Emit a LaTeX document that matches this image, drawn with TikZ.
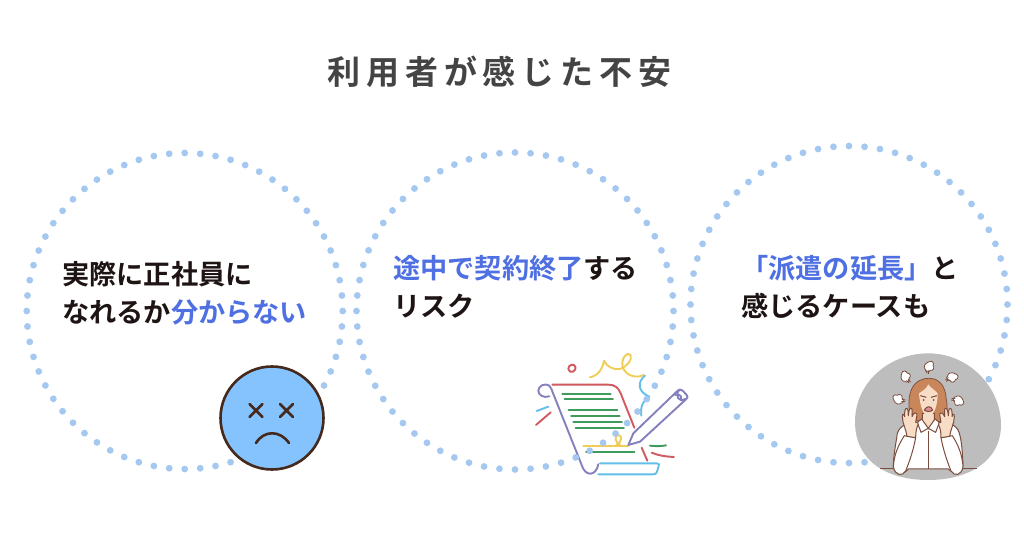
\documentclass[tikz,border=0pt]{standalone}
\usepackage{fontspec}
\setmainfont{Noto Sans CJK JP}[BoldFont={Noto Sans CJK JP Bold}]
\usetikzlibrary{calc}
\definecolor{dotblue}{HTML}{A5C8F0}
\definecolor{hl}{HTML}{4F70E2}
\definecolor{titlec}{HTML}{444444}
\definecolor{inkc}{HTML}{1E1414}
\definecolor{faceb}{HTML}{85C3FF}
\definecolor{facel}{HTML}{44291C}
\definecolor{sred}{HTML}{D2595F}
\definecolor{spur}{HTML}{8480BE}
\definecolor{sgrn}{HTML}{3E9B5B}
\definecolor{syel}{HTML}{F0CE55}
\definecolor{sblu}{HTML}{62C0E8}
\definecolor{blobc}{HTML}{BDBDBD}
\definecolor{hair}{HTML}{C8865A}
\definecolor{skin}{HTML}{F7DCC6}
\definecolor{wline}{HTML}{7B4D3E}
\tikzset{
  px/.style={x=1pt,y=-1pt},
  bodytext/.style={anchor=west,inner sep=0pt,font=\fontsize{27.2}{32}\selectfont\bfseries,text=inkc},
  titletext/.style={inner sep=0pt,font=\fontsize{33}{39}\selectfont\bfseries\addfontfeature{LetterSpace=18},text=titlec},
  sl/.style={line width=1.9pt,line cap=round,line join=round},
  wl/.style={line width=1pt,draw=wline,line join=round},
}
\newcommand{\hlt}[1]{\textcolor{hl}{#1}}
\newcommand{\dotring}[3]{%
  \foreach \a in {0,...,63}{\fill[dotblue] ($(#1,#2)+({5.625*\a}:#3)$) circle[radius=3.4];}}
\newcommand{\puff}[3]{%
  \begin{scope}[shift={(#1,#2)},rotate=#3,scale=1.55]
    \draw[wl,fill=white,line width=0.8pt] (-9,0) .. controls (-14,-8) and (-6,-12) .. (-2,-9) .. controls (2,-13) and (9,-9) .. (7,-4) .. controls (12,-1) and (10,7) .. (5,6) .. controls (2,10) and (-6,8) .. (-9,0) -- cycle;
    \draw[wl,line width=0.8pt] (7,-1) -- (14,0) (6,3) -- (13,3);
  \end{scope}}
\begin{document}
\begin{tikzpicture}[px]
\useasboundingbox (0,0) rectangle (1024,538);
\fill[white] (0,0) rectangle (1024,538);
\node[titletext] (title) at (499.5,72) {利用者が感じた不安};

% ring 1 & face
\dotring{184.7}{311}{158}
\node[circle,draw=facel,fill=faceb,line width=2.6pt,minimum size=103pt,inner sep=0pt] (face) at (272,418) {};
\begin{scope}[shift={(face.center)}]
  \draw[facel,line width=2.6pt,line cap=round] (-22.5,-14) -- (-9.5,-1) (-22.5,-1) -- (-9.5,-14);
  \draw[facel,line width=2.6pt,line cap=round] (8,-14) -- (21,-1) (8,-1) -- (21,-14);
  \draw[facel,line width=2.6pt,line cap=round] (-16,25) .. controls (-8,12) and (8,12) .. (17,25);
\end{scope}

% scroll picture, under ring 2
\begin{scope}[shift={(520,345)},x=0.3333pt,y=-0.3333pt,sl]
  \draw[sred] (97,119) -- (265,119) .. controls (285,119) and (295,128) .. (302,145) -- (343,248);
  \draw[spur] (88,154) .. controls (70,160) and (55,150) .. (55,137) .. controls (55,122) and (75,113) .. (88,122) .. controls (95,130) and (95,135) .. (100,147) -- (185,360) .. controls (195,395) and (228,395) .. (235,358);
  \draw[sblu] (240,355) -- (410,355) .. controls (418,355) and (418,358) .. (416,364) -- (411,380) .. controls (410,386) and (406,388) .. (398,388) -- (235,388);
  \foreach \xa/\xb/\yy in {127/272/146,134/279/161,146/292/195,153/299/212,160/306/230,167/312/248,198/343/320}
    \draw[sgrn] (\xa,\yy) -- (\xb,\yy);
  \draw[syel] (190,302) -- (325,302);
  \draw[syel] (302,302) .. controls (284,292) and (282,270) .. (295,270) .. controls (308,270) and (306,292) .. (288,302);
  \draw[spur] (325,300) -- (340,265) -- (470,140) .. controls (478,132) and (483,132) .. (488,137) -- (500,150) .. controls (505,155) and (503,158) .. (498,163) -- (360,290) -- cycle;
  \draw[spur] (478,135) .. controls (462,150) and (478,175) .. (495,162) (465,150) .. controls (470,145) and (485,150) .. (484,160);
  \draw[sred] (48,240) -- (92,202) (365,308) -- (382,347);
  \draw[sred] (395,323) .. controls (415,332) and (440,335) .. (462,336);
  \draw[sblu] (50,198) -- (85,185);
  \draw[sgrn] (390,302) .. controls (405,304) and (425,304) .. (438,301);
  \draw[sred] (150,80) .. controls (138,70) and (150,55) .. (162,60) .. controls (172,66) and (165,85) .. (150,80);
  \draw[syel] (210,97) .. controls (235,92) and (248,70) .. (252,47) .. controls (260,65) and (280,75) .. (300,72) .. controls (320,65) and (338,45) .. (332,30) .. controls (322,18) and (302,40) .. (308,65) .. controls (315,90) and (345,102) .. (372,90);
  \draw[sblu] (375,92) .. controls (352,110) and (352,140) .. (388,155) .. controls (370,165) and (360,185) .. (364,212);
\end{scope}
\dotring{515}{311}{158.5}

% ring 3 & woman
\dotring{849}{304.5}{158.5}
\begin{scope}[shift={(845,345)},x=0.3333pt,y=-0.3333pt]
  \fill[blobc] (250,25) .. controls (370,25) and (468,125) .. (468,240) .. controls (468,345) and (375,405) .. (250,405) .. controls (120,405) and (30,345) .. (30,230) .. controls (30,115) and (130,25) .. (250,25) -- cycle;
  \foreach \px/\py/\r in {160/165/0,180/97/-40,250/65/-90,320/95/-140,340/165/180}{\puff{\px}{\py}{\r}}
  % table
  \draw[wl] (105,372) -- (395,372);
  % torso
  \draw[wl,fill=white] (215,225) .. controls (190,235) and (165,240) .. (157,265) .. controls (152,300) and (145,335) .. (145,365) .. controls (150,390) and (170,395) .. (190,372) -- (310,372) .. controls (335,395) and (350,385) .. (354,360) .. controls (352,320) and (350,285) .. (342,262) .. controls (335,240) and (310,232) .. (285,225) -- cycle;
  \draw[wl] (250,258) -- (250,372);
  % sleeves (forearms)
  \draw[wl,fill=white] (145,365) .. controls (150,392) and (172,395) .. (182,378) .. controls (195,345) and (205,315) .. (212,278) -- (178,272) .. controls (160,300) and (147,330) .. (145,365) -- cycle;
  \draw[wl,fill=white] (354,365) .. controls (350,392) and (328,395) .. (318,378) .. controls (305,345) and (295,315) .. (288,278) -- (322,272) .. controls (340,300) and (352,330) .. (354,365) -- cycle;
  % hair
  \draw[wl,fill=hair,line width=0.7pt] (252,100) .. controls (205,100) and (190,140) .. (192,180) .. controls (190,205) and (205,232) .. (230,228) -- (285,230) .. controls (305,220) and (310,190) .. (304,165) .. controls (302,125) and (285,100) .. (252,100) -- cycle;
  % neck + collar
  \draw[wl,fill=skin] (232,205) -- (232,235) -- (250,252) -- (268,235) -- (268,205) -- cycle;
  \draw[wl,fill=white] (230,222) -- (217,232) -- (228,262) -- (250,250) -- (272,262) -- (283,232) -- (270,222) -- (250,250) -- cycle;
  % face
  \fill[skin] (222,145) .. controls (225,185) and (235,212) .. (250,214) .. controls (268,212) and (278,180) .. (278,145) .. controls (270,135) and (258,130) .. (250,118) .. controls (245,130) and (232,138) .. (222,145) -- cycle;
  \fill[wline] (236,165) circle[radius=3] (266,165) circle[radius=3];
  \draw[wl] (226,152) -- (244,157) (276,152) -- (258,157);
  \draw[wl,fill=sred!70!white] (238,195) .. controls (245,182) and (258,182) .. (263,195) .. controls (258,201) and (244,201) .. (238,195) -- cycle;
  % hands
  \draw[wl,fill=skin] (186,274) .. controls (184,255) and (172,235) .. (172,215) .. controls (172,205) and (177,205) .. (179,215) .. controls (178,200) and (180,190) .. (185,190) .. controls (190,190) and (189,205) .. (190,212) .. controls (191,198) and (194,188) .. (199,190) .. controls (204,192) and (200,208) .. (201,215) .. controls (205,205) and (212,200) .. (215,205) .. controls (218,210) and (212,222) .. (212,232) .. controls (216,228) and (222,232) .. (219,240) .. controls (214,250) and (212,262) .. (212,278) -- cycle;
  \begin{scope}[xshift=500*0.3333pt,xscale=-1]
  \draw[wl,fill=skin] (186,274) .. controls (184,255) and (172,235) .. (172,215) .. controls (172,205) and (177,205) .. (179,215) .. controls (178,200) and (180,190) .. (185,190) .. controls (190,190) and (189,205) .. (190,212) .. controls (191,198) and (194,188) .. (199,190) .. controls (204,192) and (200,208) .. (201,215) .. controls (205,205) and (212,200) .. (215,205) .. controls (218,210) and (212,222) .. (212,232) .. controls (216,228) and (222,232) .. (219,240) .. controls (214,250) and (212,262) .. (212,278) -- cycle;
  \end{scope}
\end{scope}

\node[bodytext] (t1a) at (62,274.5) {実際に正社員に};
\node[bodytext] (t1b) at (62,312.5) {なれるか\hlt{分からない}};
\node[bodytext] (t2a) at (393,268) {\hlt{途中で契約終了}する};
\node[bodytext] (t2b) at (393,306) {リスク};
\node[bodytext] (t3a) at (741,268) {\hlt{「派遣の延長」}と};
\node[bodytext] (t3b) at (741,306) {感じるケースも};
\end{tikzpicture}
\end{document}
